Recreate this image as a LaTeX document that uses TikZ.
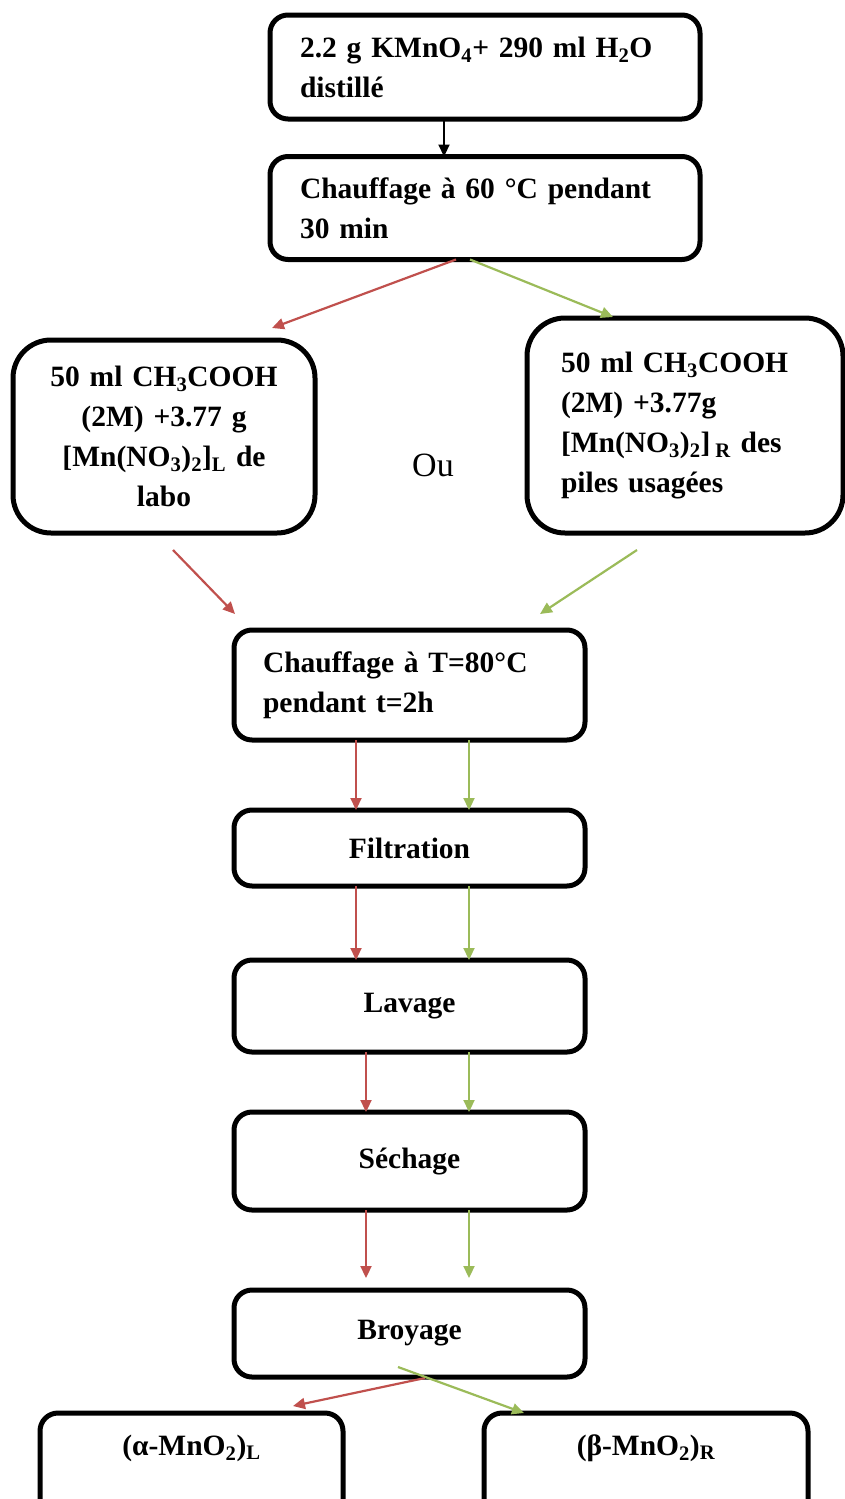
\documentclass[tikz,border=0pt]{standalone}
\usepackage{fontspec}
\setmainfont{Liberation Serif}
\usetikzlibrary{arrows.meta,calc}
\definecolor{redline}{RGB}{192,80,77}
\definecolor{greenline}{RGB}{155,187,89}
\begin{document}
\begin{tikzpicture}[x=1pt,y=-1pt,
  box/.style={draw=black, line width=5pt, rounded corners=18pt, inner sep=0pt, outer sep=0pt,
    font=\fontsize{29.5}{40}\selectfont\bfseries},
  bigbox/.style={box, rounded corners=38pt},
  arr/.style={line width=2.2pt, -{Triangle[length=12pt,width=11pt]}},
  redarr/.style={arr, redline},
  greenarr/.style={arr, greenline}]
\useasboundingbox (0,0) rectangle (845,1499);
\clip (0,0) rectangle (845,1499);

% preparation steps
\node[box, minimum width=430pt, minimum height=104pt, text width=370pt, align=left] (b1) at (485,67)
  {2.2 g KMnO\textsubscript{4}+ 290 ml H\textsubscript{2}O\\distillé};
\node[box, minimum width=430pt, minimum height=103pt, text width=370pt, align=left] (b2) at (485,208)
  {Chauffage à 60 °C pendant\\30 min};

% the two manganese sources
\node[bigbox, minimum width=302pt, minimum height=193pt, text width=280pt, align=center] (L) at (164,436.5)
  {50 ml CH\textsubscript{3}COOH\\(2M) +3.77 g\\{[}Mn(NO\textsubscript{3})\textsubscript{2}]\textsubscript{L} de\\labo};
\node[bigbox, minimum width=316pt, minimum height=215pt, text width=248pt, align=left] (R) at (685,425.5)
  {50 ml CH\textsubscript{3}COOH\\(2M) +3.77g\\{[}Mn(NO\textsubscript{3})\textsubscript{2}]\,\textsubscript{R} des\\piles usagées\\[-20pt]{}};
\node[font=\fontsize{34}{40}\selectfont] (ou) at (433,465) {Ou};

% common treatment
\node[box, minimum width=351pt, minimum height=110pt, text width=293pt, align=left] (b3) at (409.5,685)
  {Chauffage à T=80°C\\pendant t=2h};
\node[box, minimum width=351pt, minimum height=76pt] (b4) at (409.5,848) {Filtration};
\node[box, minimum width=351pt, minimum height=92pt] (b5) at (409.5,1006) {Lavage};
\node[box, minimum width=351pt, minimum height=98pt] (b6) at (409.5,1161) {Séchage};
\node[box, minimum width=351pt, minimum height=87pt] (b7) at (409.5,1333.5) {Broyage};

% products
\node[box, anchor=north, minimum width=303pt, inner ysep=20pt, text height=22pt, text depth=80pt] (aL) at (191.5,1413)
  {(α-MnO\textsubscript{2})\textsubscript{L}};
\node[box, anchor=north, minimum width=324pt, inner ysep=20pt, text height=22pt, text depth=80pt] (bR) at (646,1413)
  {(β-MnO\textsubscript{2})\textsubscript{R}};

% connectors
\draw[arr] ([xshift=-41pt]b1.south) -- ([xshift=-41pt]b2.north);
\draw[redarr] ([xshift=-29pt]b2.south) -- ([xshift=-43pt,yshift=12pt]L.north east);
\draw[greenarr] ([xshift=-15pt]b2.south) -- ([xshift=86pt,yshift=1pt]R.north west);
\draw[redarr] ([xshift=9pt,yshift=-17pt]L.south) -- ([xshift=1pt,yshift=16pt]b3.north west);
\draw[greenarr] ([xshift=-48pt,yshift=-17pt]R.south) -- ([xshift=-45pt,yshift=16pt]b3.north east);

\draw[redarr] ([xshift=-53.5pt]b3.south) -- ([xshift=-53.5pt]b4.north);
\draw[greenarr] ([xshift=59.5pt]b3.south) -- ([xshift=59.5pt]b4.north);
\draw[redarr] ([xshift=-53.5pt]b4.south) -- ([xshift=-53.5pt]b5.north);
\draw[greenarr] ([xshift=59.5pt]b4.south) -- ([xshift=59.5pt]b5.north);
\draw[redarr] ([xshift=-43.5pt]b5.south) -- ([xshift=-43.5pt]b6.north);
\draw[greenarr] ([xshift=59.5pt]b5.south) -- ([xshift=59.5pt]b6.north);
\draw[redarr] ([xshift=-43.5pt]b6.south) -- ([xshift=-43.5pt,yshift=12pt]b7.north);
\draw[greenarr] ([xshift=59.5pt]b6.south) -- ([xshift=59.5pt,yshift=12pt]b7.north);

\draw[redarr] ([xshift=15.5pt,yshift=-1pt]b7.south) -- ([xshift=-50pt,yshift=7pt]aL.north east);
\draw[greenarr] ([xshift=-11.5pt,yshift=10pt]b7.south) -- ([xshift=40pt]bR.north west);
\end{tikzpicture}
\end{document}
